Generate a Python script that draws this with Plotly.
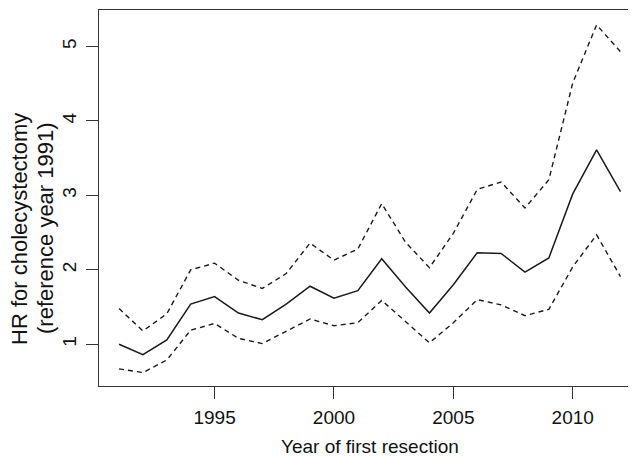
import plotly.graph_objects as go

years = list(range(1991, 2013))
hr = [1.00, 0.86, 1.06, 1.54, 1.64, 1.42, 1.33, 1.54, 1.78, 1.62, 1.72,
      2.15, 1.77, 1.42, 1.80, 2.23, 2.22, 1.97, 2.16, 3.02, 3.61, 3.05]
upper = [1.48, 1.18, 1.41, 2.00, 2.09, 1.86, 1.75, 1.95, 2.36, 2.13, 2.28,
         2.89, 2.37, 2.03, 2.49, 3.08, 3.18, 2.83, 3.21, 4.51, 5.29, 4.93]
lower = [0.67, 0.62, 0.79, 1.19, 1.28, 1.08, 1.01, 1.17, 1.34, 1.25, 1.29,
         1.59, 1.30, 1.02, 1.29, 1.60, 1.53, 1.385, 1.47, 2.04, 2.47, 1.91]
x_ticks = [1995, 2000, 2005, 2010]
y_ticks = [1, 2, 3, 4, 5]

FONT = "Liberation Sans, Arial, sans-serif"
INK = "#1a1a1a"

# page body has an 8px default margin, so the figure is shifted by 8px
OFF = 8

fig = go.Figure()
fig.add_trace(go.Scatter(x=years, y=upper, mode="lines",
                         line=dict(color=INK, width=1.4, dash="5px,4px"),
                         showlegend=False))
fig.add_trace(go.Scatter(x=years, y=hr, mode="lines",
                         line=dict(color=INK, width=1.5),
                         showlegend=False))
fig.add_trace(go.Scatter(x=years, y=lower, mode="lines",
                         line=dict(color=INK, width=1.4, dash="5px,4px"),
                         showlegend=False))

fig.update_layout(
    width=636 - OFF, height=457 - OFF,
    margin=dict(l=99 - OFF, r=0, t=10 - OFF, b=71, autoexpand=False),
    paper_bgcolor="white", plot_bgcolor="white",
    font=dict(family=FONT, size=19, color="#111"),
    xaxis=dict(range=[1990.16, 2012.65], tickvals=x_ticks, automargin=False,
               ticks="outside", ticklen=12, tickwidth=1.2, tickcolor="#333",
               showline=True, linecolor="#333", linewidth=1.2, mirror=True,
               showgrid=False, zeroline=False, ticklabelstandoff=2,
               tickfont=dict(family=FONT, size=19, color="#111")),
    yaxis=dict(range=[0.44, 5.49], tickvals=y_ticks, automargin=False,
               ticks="outside", ticklen=12, tickwidth=1.2, tickcolor="#333",
               showline=True, linecolor="#333", linewidth=1.2, mirror=False,
               showgrid=False, zeroline=False, tickangle=-90,
               ticklabelstandoff=2,
               tickfont=dict(family=FONT, size=19, color="#111")),
    annotations=[
        dict(text="Year of first resection", xref="paper", yref="paper",
             x=(370 - 99) / 537, y=0, xanchor="center", yanchor="middle",
             yshift=-60, showarrow=False,
             font=dict(family=FONT, size=19, color="#111")),
        dict(text="HR for cholecystectomy", xref="paper", yref="paper",
             x=0, y=(386 - 229) / 376, xanchor="center", yanchor="middle",
             xshift=-(99 - 20), textangle=-90, showarrow=False,
             font=dict(family=FONT, size=22, color="#111")),
        dict(text="(reference year 1991)", xref="paper", yref="paper",
             x=0, y=(386 - 228) / 376, xanchor="center", yanchor="middle",
             xshift=-(99 - 45), textangle=-90, showarrow=False,
             font=dict(family=FONT, size=22, color="#111")),
    ],
)

fig.write_html("out.html")
